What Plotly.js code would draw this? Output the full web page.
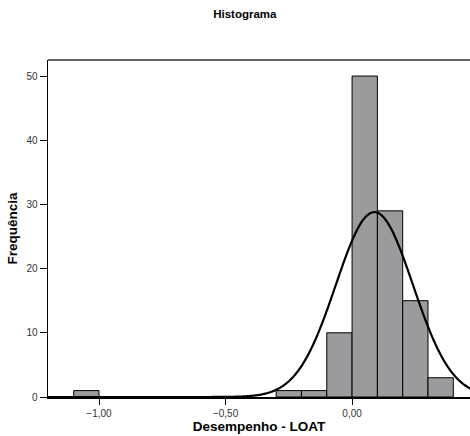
<!DOCTYPE html>
<html>
<head>
<meta charset="utf-8">
<script src="https://cdn.plot.ly/plotly-3.0.1.min.js"></script>
<style>html,body{margin:0;padding:0;background:#fff;}#chart{width:470px;height:436px;}</style>
</head>
<body>
<div id="chart"></div>
<script>
// Histogram bins (left edges) and counts
const binStarts = [-1.1, -0.3, -0.2, -0.1, 0.0, 0.1, 0.2, 0.3];
const counts    = [1, 1, 1, 10, 50, 29, 15, 3];
const binWidth = 0.1;
const xTickVals = [-1.0, -0.5, 0.0];
const yTickVals = [0, 10, 20, 30, 40, 50];

const centers = binStarts.map(s => s + binWidth / 2);

// Normal curve fitted to the binned data (mean, sd, N)
const N = counts.reduce((a, b) => a + b, 0);
const mean = centers.reduce((a, c, i) => a + c * counts[i], 0) / N;
let ss = 0;
centers.forEach((c, i) => { ss += counts[i] * (c - mean) * (c - mean); });
const sd = Math.sqrt(ss / (N - 1) + binWidth * binWidth / 12);
const cx = [], cy = [];
for (let x = -1.25; x <= 0.5; x += 0.004) {
  cx.push(x);
  cy.push(N * binWidth / (sd * Math.sqrt(2 * Math.PI)) * Math.exp(-0.5 * Math.pow((x - mean) / sd, 2)));
}

const font = "Liberation Sans, Arial, sans-serif";
const data = [
  {
    type: 'bar', x: centers, y: counts, width: binWidth,
    marker: {color: '#9b9a9d', line: {color: '#000', width: 1}},
    hoverinfo: 'none'
  },
  {
    type: 'scatter', mode: 'lines', x: cx, y: cy,
    line: {color: '#000', width: 2.2, shape: 'spline'},
    hoverinfo: 'none'
  }
];
const layout = {
  width: 470, height: 436,
  margin: {l: 48, r: 0, t: 60, b: 39},
  paper_bgcolor: '#fff', plot_bgcolor: '#fff',
  showlegend: false,
  separators: ',.',
  font: {family: font, color: '#222', size: 10},
  title: {
    text: '<b>Histograma</b>', font: {family: font, size: 11.5, color: '#000'},
    x: 0.521, xanchor: 'center', y: 1 - 14 / 436, yanchor: 'middle', yref: 'container'
  },
  xaxis: {
    range: [-1.2016, 0.466],
    tickvals: xTickVals, tickformat: '.2f',
    ticks: 'outside', ticklen: 6, tickwidth: 1, tickcolor: '#000',
    showline: true, linecolor: '#000', linewidth: 2,
    showgrid: false, zeroline: false,
    tickfont: {family: font, size: 10, color: '#333'},
    title: {text: '<b>Desempenho - LOAT</b>', font: {family: font, size: 13.5, color: '#000'}, standoff: 1}
  },
  yaxis: {
    range: [0, 52.5],
    tickvals: yTickVals,
    ticks: 'outside', ticklen: 7, tickwidth: 1, tickcolor: '#000',
    showline: true, linecolor: '#000', linewidth: 1.5,
    showgrid: false, zeroline: false,
    tickfont: {family: font, size: 10, color: '#333'},
    title: {text: '<b>Frequência</b>', font: {family: font, size: 13.5, color: '#000'}, standoff: 5}
  },
  shapes: [
    {type: 'line', xref: 'paper', yref: 'paper', x0: 0, x1: 1, y0: 1, y1: 1,
     line: {color: '#666', width: 2}}
  ]
};
Plotly.newPlot('chart', data, layout, {staticPlot: true, displayModeBar: false});
</script>
</body>
</html>
